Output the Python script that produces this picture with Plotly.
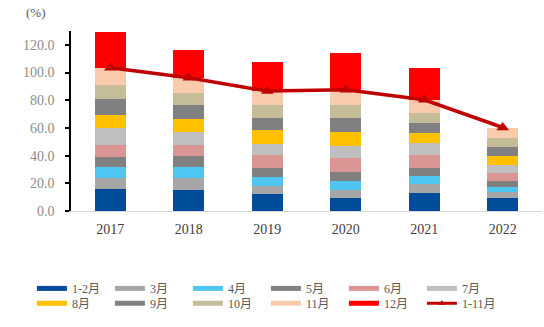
import plotly.graph_objects as go

# Years on the category axis
years = ["2017", "2018", "2019", "2020", "2021", "2022"]

# Monthly contributions (%) stacked per year
m01_02 = [15.7, 15.0, 12.1, 9.2, 13.3, 9.1]
m03 = [8.2, 8.5, 5.7, 5.8, 6.1, 4.3]
m04 = [8.2, 8.0, 7.1, 6.6, 6.0, 4.1]
m05 = [7.0, 8.2, 6.4, 6.9, 5.6, 4.3]
m06 = [8.9, 8.3, 9.1, 10.0, 9.8, 5.9]
m07 = [11.7, 8.7, 8.3, 8.7, 8.0, 5.5]
m08 = [9.3, 9.9, 9.8, 9.9, 7.4, 6.8]
m09 = [12.0, 9.6, 8.8, 10.1, 7.6, 6.0]
m10 = [9.9, 9.3, 9.6, 9.0, 7.2, 6.7]
m11 = [12.6, 10.7, 9.7, 11.3, 9.3, 7.6]
m12 = [26.0, 20.3, 21.0, 26.7, 22.7, None]

series_names = ["1-2月", "3月", "4月", "5月", "6月", "7月",
                "8月", "9月", "10月", "11月", "12月"]
series_values = [m01_02, m03, m04, m05, m06, m07, m08, m09, m10, m11, m12]
series_colors = ["#004C9B", "#A6A6A6", "#4FC6F2", "#808080", "#DA9694", "#BFBFBF",
                 "#FFC000", "#808080", "#C4BD97", "#F8CBAD", "#FF0000"]

# January-November cumulative total
jan_nov = [round(sum(v[i] for v in series_values[:10]), 1) for i in range(len(years))]

tick_vals = [0, 20, 40, 60, 80, 100, 120]
tick_text = ["0.0", "20.0", "40.0", "60.0", "80.0", "100.0", "120.0"]

SERIF = "Liberation Serif, 'Noto Sans CJK SC', serif"

fig = go.Figure()

for name, vals, col in zip(series_names, series_values, series_colors):
    fig.add_trace(go.Bar(
        x=years, y=vals, name=name, marker=dict(color=col, line=dict(width=0)),
        width=0.4, showlegend=False,
    ))

fig.add_trace(go.Scatter(
    x=years, y=jan_nov, name="1-11月", mode="lines+markers",
    line=dict(color="#C00000", width=3.5),
    marker=dict(symbol="triangle-up", size=11, color="#C00000"),
    showlegend=False,
))

# Legend swatches: wide flat bars in two rows of six
for i, (name, col) in enumerate(zip(series_names, series_colors)):
    fig.add_trace(go.Scatter(
        x=[None], y=[None], mode="lines", name=name,
        line=dict(color=col, width=5),
        legend="legend" if i < 6 else "legend2",
    ))
fig.add_trace(go.Scatter(
    x=[None], y=[None], mode="lines+markers", name="1-11月",
    line=dict(color="#C00000", width=3),
    marker=dict(symbol="triangle-up", size=6, color="#C00000"),
    legend="legend2",
))

legend_common = dict(
    orientation="h", xanchor="left", yanchor="middle", traceorder="normal",
    font=dict(family=SERIF, size=12, color="#595959"),
    entrywidth=33, entrywidthmode="pixels",
    bgcolor="rgba(0,0,0,0)", borderwidth=0, itemclick=False,
)

fig.update_layout(
    width=544, height=327,
    margin=dict(l=71, r=2, t=31, b=116),
    paper_bgcolor="white", plot_bgcolor="white",
    barmode="stack", bargap=0.6,
    legend=dict(x=-0.083, y=-0.43, **legend_common),
    legend2=dict(x=-0.083, y=-0.513, **legend_common),
    xaxis=dict(
        type="category", showline=True, linecolor="#D9D9D9", linewidth=1,
        showgrid=False, ticks="", ticklabelstandoff=5,
        tickfont=dict(family=SERIF, size=14, color="#404040"),
        range=[-0.5, 5.5],
    ),
    yaxis=dict(
        range=[0, 130], showline=True, linecolor="#000000", linewidth=1.5,
        showgrid=False, zeroline=False,
        ticks="outside", ticklen=4, tickcolor="#000000", tickwidth=1.5,
        ticklabelstandoff=8,
        tickvals=tick_vals, ticktext=tick_text,
        tickfont=dict(family=SERIF, size=14, color="#8C8C8C"),
    ),
    annotations=[dict(
        text="(%)", xref="paper", yref="paper", x=-0.074, y=1.105,
        xanchor="center", yanchor="middle", showarrow=False,
        font=dict(family=SERIF, size=13, color="#595959"),
    )],
)

fig.write_html("out.html")
